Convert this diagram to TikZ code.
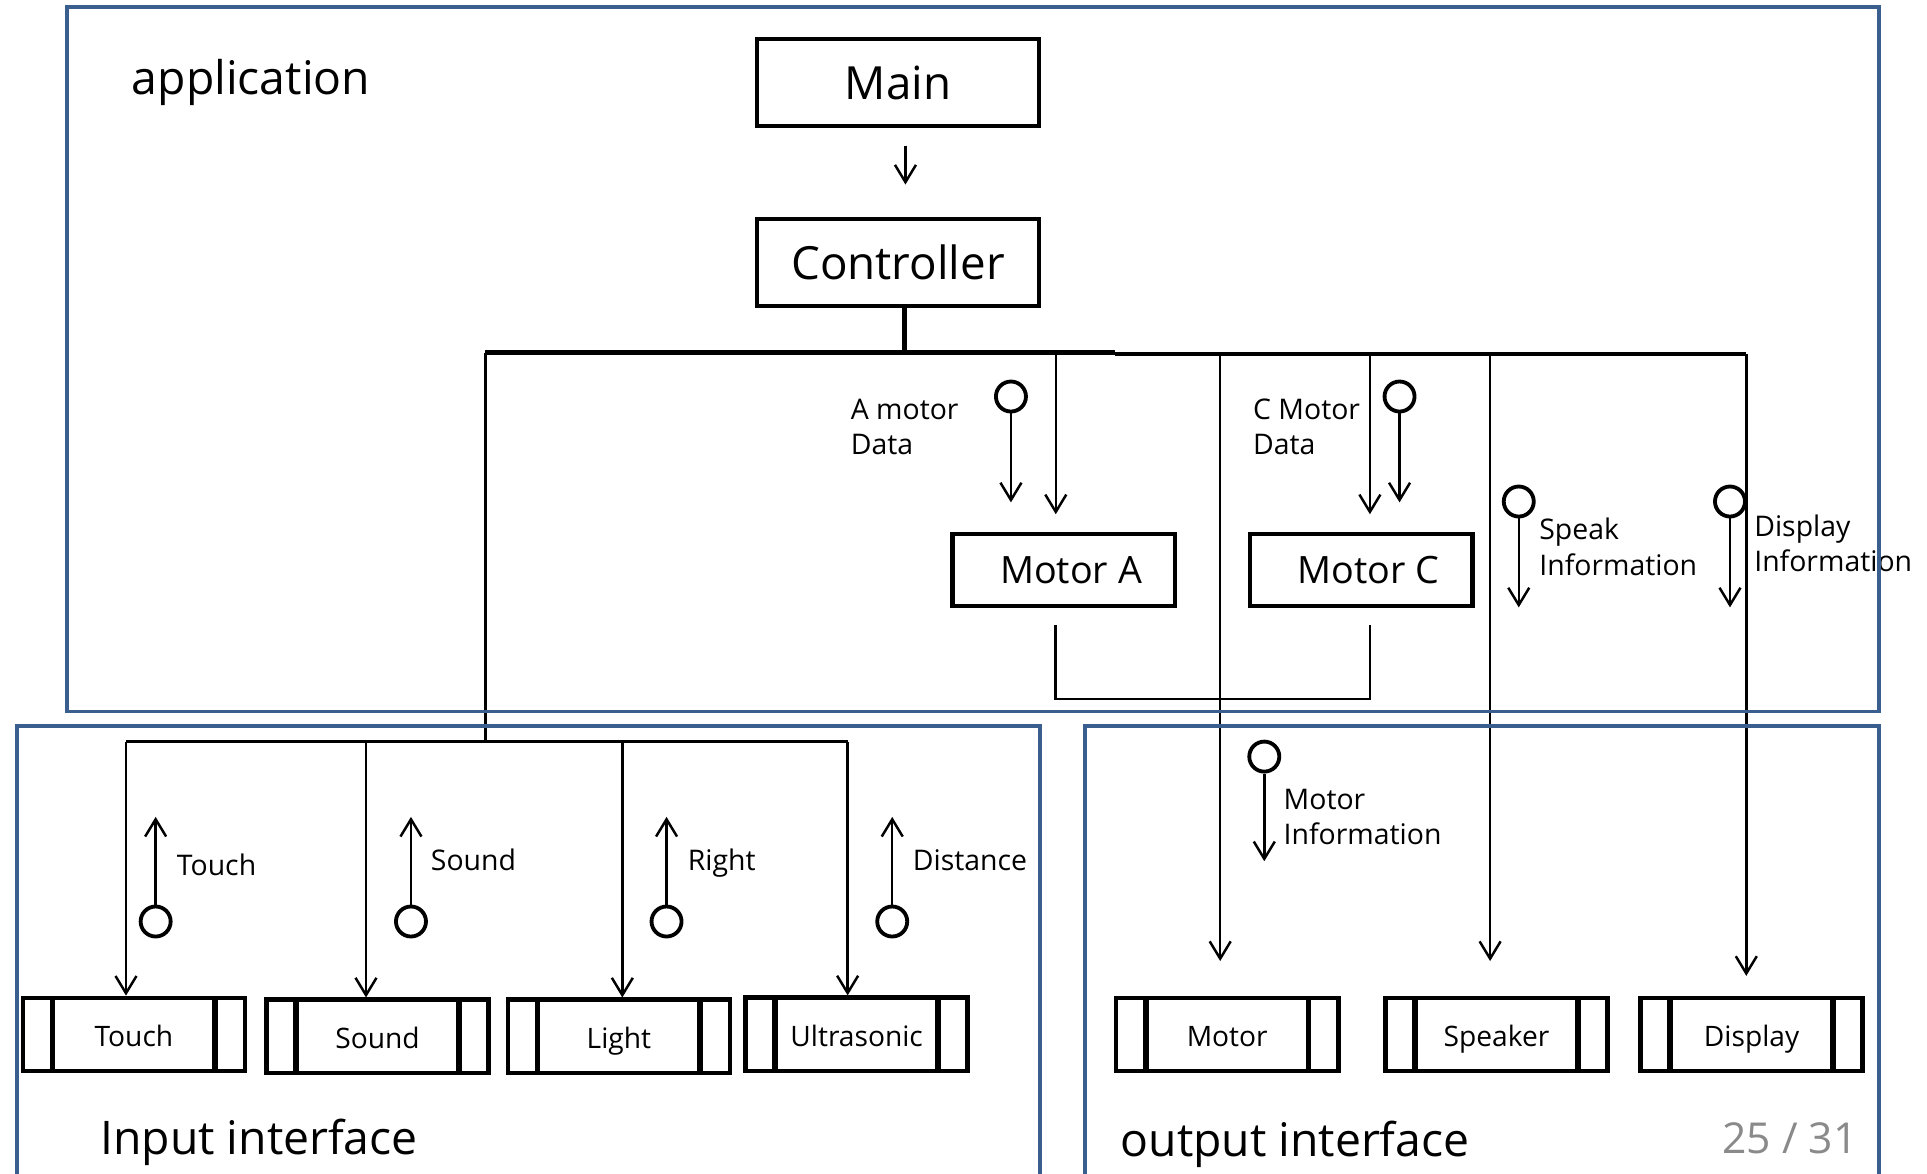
\documentclass[tikz,border=0pt]{standalone}
\usepackage{fontspec}
\setmainfont{Open Sans}
\usetikzlibrary{arrows.meta,calc}
\definecolor{frameblue}{HTML}{3A5F8F}
\definecolor{pagegray}{HTML}{8A8A8A}
\tikzset{
  frame/.style={draw=frameblue,line width=3.2pt},
  bigbox/.style={draw,line width=3.8pt,rectangle,inner sep=0pt,minimum width=228.2pt,minimum height=70.4pt,font=\fontsize{37}{44}\selectfont},
  motbox/.style={draw,line width=3.6pt,rectangle,inner sep=0pt,minimum width=180.1pt,minimum height=58.4pt,text depth=0pt,font=\fontsize{30.5}{36}\selectfont},
  iobox/.style={draw,line width=3.7pt,rectangle,inner sep=0pt,minimum width=179.8pt,minimum height=59.3pt,text height=24pt,text depth=5pt,font=\fontsize{22.8}{27}\selectfont,
    path picture={
      \draw[line width=4.6pt] ([xshift=24pt]path picture bounding box.north west) -- ([xshift=24pt]path picture bounding box.south west);
      \draw[line width=4.6pt] ([xshift=-24pt]path picture bounding box.north east) -- ([xshift=-24pt]path picture bounding box.south east);
    }},
  sig/.style={draw,circle,line width=3.1pt,minimum size=24.3pt,inner sep=0pt},
  arr/.style={line width=2pt,-{Straight Barb[length=14pt,width=17pt,line width=2pt]}},
  wire/.style={line width=2.2pt},
  thickwire/.style={line width=4.2pt},
  lbl/.style={anchor=base west,inner sep=0pt,font=\fontsize{23}{27}\selectfont},
  biglbl/.style={anchor=base west,inner sep=0pt,font=\fontsize{37.5}{44}\selectfont},
}
\begin{document}
\begin{tikzpicture}[x=1pt,y=-1pt]
\useasboundingbox (0,0) rectangle (1560,950.4);
\fill[white] (0,0) rectangle (1560,950.4);

% texts of frames
\node[biglbl] (tapp) at (106.6,76.9) {application};
\node[biglbl] (tin) at (81,935) {Input interface};
\node[biglbl] (tout) at (907,936.6) {output interface};
\node[anchor=base east,inner sep=0pt,text=pagegray,font=\fontsize{34.5}{38}\selectfont] (tpage) at (1504,934) {25 / 31};

% boxes
\node[bigbox] (main) at (727,66.8) {Main};
\node[bigbox] (ctrl) at (727,212.5) {Controller};
\node[motbox] (motA) at (861,461.3) {\hspace*{12pt}Motor A};
\node[motbox] (motC) at (1102,461.3) {\hspace*{12pt}Motor C};

\node[iobox] (iTouch) at (108.4,837.5) {Touch};
\node[iobox] (iSound) at (305.6,839) {Sound};
\node[iobox] (iLight) at (501,839) {Light};
\node[iobox] (iUltra) at (693.5,837.3) {Ultrasonic};
\node[iobox] (oMotor) at (993.5,837.5) {Motor};
\node[iobox] (oSpeaker) at (1211.5,837.5) {Speaker};
\node[iobox] (oDisplay) at (1418,837.5) {Display};

% bus coordinates
\coordinate (busL) at (393,285.5);
\coordinate (busM) at (902.7,285.5);
\coordinate (busR) at (1413.7,286.6);
\coordinate (stem) at (732,285.5);
\coordinate (tapA) at (854.7,285.5);
\coordinate (tapMo) at (987.8,286.6);
\coordinate (tapC) at (1109,286.6);
\coordinate (tapSp) at (1206.3,286.6);
\coordinate (inL) at (102,600.4);
\coordinate (inR) at (686.2,600.4);
\coordinate (inMid) at (393,600.4);

% main -> controller
\draw[arr] ($(main.south)+(6,14)$) -- ($(ctrl.north)+(6,-26)$);
\draw[thickwire] (ctrl.south -| stem) -- (stem);
\draw[thickwire] (busL) -- (busM);
\draw[wire,line width=3pt] (busM |- busR) -- (busR);
\draw[wire,line width=2.5pt] (busL) -- (inMid);

% connectors to motors / outputs
\draw[arr] (tapA) -- ($(tapA |- motA.north)+(0,-14)$);
\draw[arr] (tapC) -- ($(tapC |- motC.north)+(0,-14)$);
\draw[arr] (tapMo) -- ($(tapMo |- oMotor.north)+(0,-28)$);
\draw[arr] (tapSp) -- ($(tapSp |- oSpeaker.north)+(0,-28)$);
\draw[arr] (busR) -- ($(busR |- oDisplay.north)+(0,-16)$);

% link between motors
\coordinate (linkA) at ($(motA.south -| tapA)+(0,13.5)$);
\coordinate (linkC) at ($(motC.south -| tapC)+(0,13.5)$);
\draw[wire] (linkA) -- ++(0,60) -| (linkC);

% input bus
\draw[wire,line width=2.5pt] (inL) -- (inR);
\draw[arr] (inL) -- (inL |- iTouch.north);
\draw[arr] (296.3,600.4) coordinate (inS) -- (inS |- iSound.north);
\draw[arr] (503.8,600.4) coordinate (inLi) -- (inLi |- iLight.north);
\draw[arr] (inR) -- (inR |- iUltra.north);

% signal flows
\node[sig] (sA) at (818.4,321) {};
\draw[arr] (sA.south) -- ++(0,72);
\node[lbl] (lA1) at (688.6,340) {A motor};
\node[lbl] (lA2) at (688.6,368.3) {Data};

\node[sig] (sC) at (1133,321) {};
\draw[arr] (sC.south) -- ++(0,72);
\node[lbl] (lC1) at (1014.3,340) {C Motor};
\node[lbl] (lC2) at (1014.3,368.3) {Data};

\node[sig] (sSp) at (1229.5,406) {};
\draw[arr] (sSp.south) -- ++(0,72);
\node[lbl] (lSp1) at (1246,437) {Speak};
\node[lbl] (lSp2) at (1246,465.5) {Information};

\node[sig] (sDi) at (1400.5,406) {};
\draw[arr] (sDi.south) -- ++(0,72);
\node[lbl] (lDi1) at (1420,434.5) {Display};
\node[lbl] (lDi2) at (1420,462.8) {Information};

\node[sig] (sMo) at (1023.5,612.5) {};
\draw[arr] (sMo.south) -- ++(0,71);
\node[lbl] (lMo1) at (1039,655.7) {Motor};
\node[lbl] (lMo2) at (1039,684) {Information};

\node[sig] (sT) at (126,746) {};
\draw[arr] (sT.north) -- ++(0,-71);
\node[lbl] (lT) at (143,709) {Touch};
\node[sig] (sS) at (332.7,746) {};
\draw[arr] (sS.north) -- ++(0,-71);
\node[lbl] (lS) at (348.7,704.8) {Sound};
\node[sig] (sR) at (539.6,746) {};
\draw[arr] (sR.north) -- ++(0,-71);
\node[lbl] (lR) at (556.7,704.8) {Right};
\node[sig] (sD) at (722.3,746) {};
\draw[arr] (sD.north) -- ++(0,-71);
\node[lbl] (lD) at (738.8,704.8) {Distance};

% frames
\draw[frame] (54,6) rectangle (1521,576);
\draw[frame] (13.5,960) -- (13.5,588) -- (842,588) -- (842,960);
\draw[frame] (878,960) -- (878,588) -- (1521,588) -- (1521,960);
\end{tikzpicture}
\end{document}
